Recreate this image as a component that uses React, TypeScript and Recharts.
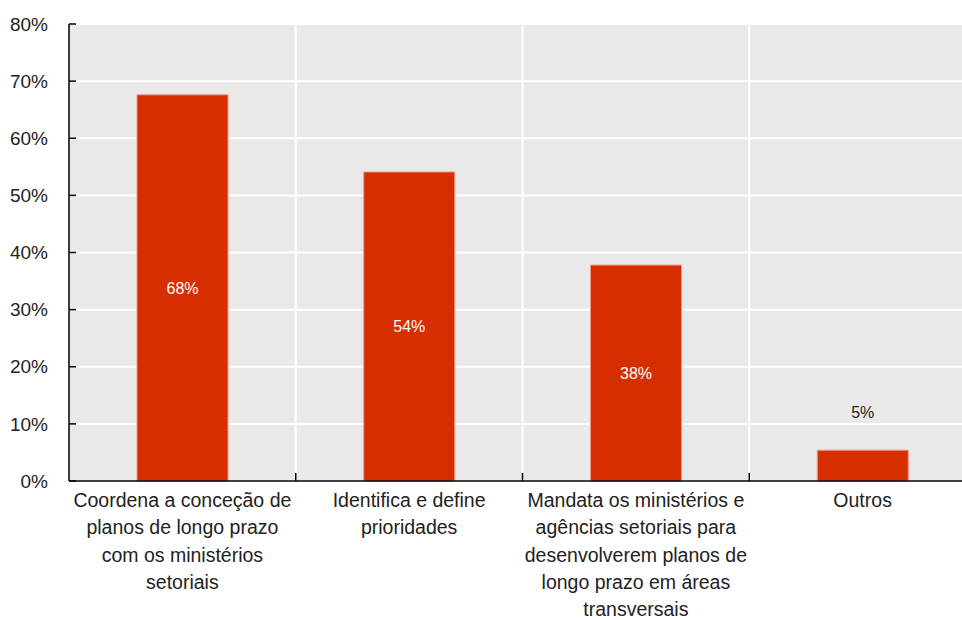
import { BarChart, Bar, XAxis, YAxis, CartesianGrid, LabelList } from "recharts";

const categories = [
  "Coordena a conceção de\nplanos de longo prazo\ncom os ministérios\nsetoriais",
  "Identifica e define\nprioridades",
  "Mandata os ministérios e\nagências setoriais para\ndesenvolverem planos de\nlongo prazo em áreas\ntransversais",
  "Outros",
];
const shares = [67.6, 54.1, 37.8, 5.4];
const shareLabels = ["68%", "54%", "38%", "5%"];
const yTicks = [0, 10, 20, 30, 40, 50, 60, 70, 80];

const data = categories.map((name, i) => ({
  name,
  value: shares[i],
  label: shareLabels[i],
}));

const CHART_W = 976;
const CHART_H = 620;
const Y_W = 69;
const FONT = "'Liberation Sans', Arial, sans-serif";
const BAND = (CHART_W - Y_W) / categories.length;

const YTick = (props: any) => {
  const { x, y, payload } = props;
  return (
    <g>
      <line x1={x} y1={y} x2={x + 7} y2={y} stroke="#000" strokeWidth={1.5} />
      <text x={x - 21} y={y} dy="0.35em" textAnchor="end" fontSize={19} fill="#222" fontFamily={FONT}>
        {payload.value}%
      </text>
    </g>
  );
};

const XTick = (props: any) => {
  const { x, y, payload, index } = props;
  const lines = String(payload.value).split("\n");
  return (
    <g>
      {index < categories.length - 1 && (
        <line x1={x + BAND / 2} y1={y} x2={x + BAND / 2} y2={y - 8} stroke="#000" strokeWidth={1.5} />
      )}
      <text x={x} y={y + 26} textAnchor="middle" fontSize={19.5} fill="#222" fontFamily={FONT}>
        {lines.map((l, i) => (
          <tspan key={i} x={x} dy={i === 0 ? 0 : 27.3}>
            {l}
          </tspan>
        ))}
      </text>
    </g>
  );
};

const BarLabel = (props: any) => {
  const { x, y, width, height, index } = props;
  const text = shareLabels[index];
  const inside = height > 60;
  return (
    <text
      x={x + width / 2}
      y={inside ? y + height / 2 : y - 38}
      dy="0.35em"
      textAnchor="middle"
      fontSize={16}
      fill={inside ? "#fff" : "#222"}
      fontFamily={FONT}
    >
      {text}
    </text>
  );
};

export default function App() {
  return (
    <div style={{ position: "absolute", left: 0, top: 0, width: 962, height: 620, overflow: "hidden", background: "#fff" }}>
      <BarChart
        width={CHART_W}
        height={CHART_H}
        data={data}
        margin={{ top: 24, right: 0, left: 0, bottom: 0 }}
        barSize={91}
      >
        <CartesianGrid
          fill="#e9e9e9"
          fillOpacity={1}
          stroke="#fff"
          strokeWidth={2}
          verticalCoordinatesGenerator={({ offset }: any) =>
            [1, 2, 3].map((i) => offset.left + (i * offset.width) / categories.length)
          }
        />
        <XAxis
          dataKey="name"
          interval={0}
          height={139}
          tickSize={0}
          tickMargin={0}
          tick={<XTick />}
          axisLine={{ stroke: "#000", strokeWidth: 1.5 }}
        />
        <YAxis
          width={Y_W}
          domain={[0, 80]}
          ticks={yTicks}
          interval={0}
          tickSize={0}
          tickMargin={0}
          tick={<YTick />}
          axisLine={{ stroke: "#000", strokeWidth: 1.5 }}
        />
        <Bar dataKey="value" fill="#d72e00" stroke="#ef9a86" strokeWidth={1} isAnimationActive={false}>
          <LabelList dataKey="label" content={<BarLabel />} />
        </Bar>
      </BarChart>
    </div>
  );
}
